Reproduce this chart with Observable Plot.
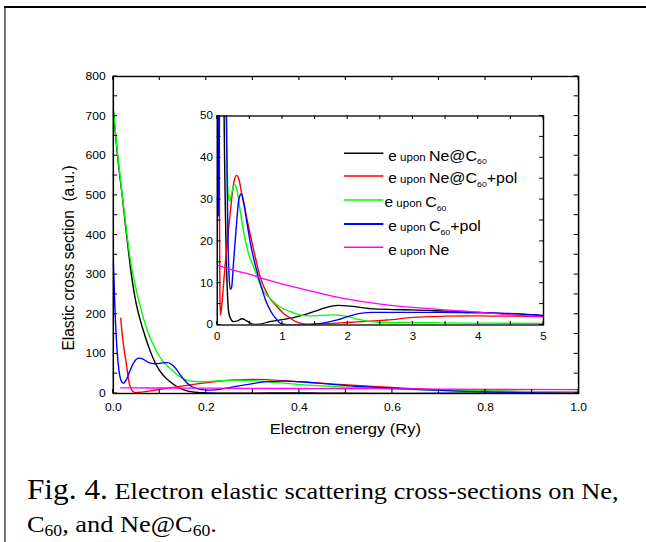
<!DOCTYPE html>
<html><head><meta charset="utf-8">
<script src="https://cdn.jsdelivr.net/npm/d3@7"></script>
<script src="https://cdn.jsdelivr.net/npm/@observablehq/plot@0.6"></script>
<style>
html,body{margin:0;padding:0;background:#fff;width:646px;height:542px;overflow:hidden}
#page{position:absolute;left:0;top:0;width:587.3px;height:542px;transform:scaleX(1.1);transform-origin:0 0;}
#border{position:absolute;left:4.3px;top:5.7px;width:800px;height:800px;border-left:1.8px solid #000;border-top:2px solid #000;}
#main,#inset,#deco{position:absolute;}
#main{left:0;top:0;}
#inset{left:165px;top:100px;}
#deco{left:0;top:0;}
</style></head>
<body><div id="page"><div id="border"></div><div id="main"></div><div id="inset"></div><svg id="deco" width="587.3" height="542"></svg></div>
<script>
// ---------- data (energy in Ry, cross section in a.u.) ----------
const blackE  = [0,0.005,0.01,0.019,0.03,0.04,0.048,0.058,0.069,0.08,0.091,0.1,0.112,0.125,0.14,0.155,0.17,0.185,0.2,0.25,0.3,0.38,0.45,0.56,0.65,0.8,1.0,1.15,1.33,1.5,1.65,1.85,2.05,2.35,2.7,3.0,3.5,4.0,4.5,5.0];
const blackCS = [715,650,590,500,385,290,234,185,142,105,75,57,40,27,15,8,3.8,2.3,1.7,0.8,0.9,1.5,1.0,0.15,0.2,0.8,1.3,1.7,2.4,3.3,4.1,4.7,4.5,3.9,3.7,3.6,3.3,3.0,2.7,2.2];
const redE    = [0.016,0.02,0.027,0.034,0.04,0.048,0.06,0.08,0.1,0.125,0.15,0.18,0.2,0.23,0.26,0.296,0.33,0.38,0.46,0.55,0.66,0.78,0.92,1.0,1.12,1.25,1.4,1.7,2.0,2.3,2.6,3.0,3.5,4.0,4.5,5.0];
const redCS   = [190,140,83,28,8,2.3,3.5,6.5,10.5,15,19,24,27,31.5,34.5,35.8,35,31,25,18.5,11.4,7,4.3,3,1.6,0.5,0.2,0.3,0.6,0.9,1.2,1.8,2.1,2.2,2.1,2.0];
const greenE  = [0,0.005,0.01,0.015,0.019,0.025,0.03,0.037,0.045,0.055,0.066,0.076,0.088,0.1,0.113,0.127,0.14,0.155,0.17,0.19,0.22,0.265,0.3,0.35,0.41,0.48,0.56,0.63,0.71,0.8,0.92,1.0,1.12,1.25,1.4,1.6,1.8,2.0,2.15,2.35,2.6,3.0,3.5,4.0,5.0];
const greenCS = [720,655,595,545,503,445,395,335,285,234,185,150,118,92,73,58,45,35,31,29.6,31.5,33.6,32.5,27.5,21.8,17,13.8,10.8,8,6.5,4.8,4.0,3.2,2.5,2.2,2.3,2.4,2.0,1.4,0.8,0.6,0.6,0.5,0.45,0.4];
const blueE   = [0,0.004,0.008,0.012,0.016,0.021,0.028,0.035,0.045,0.055,0.065,0.077,0.09,0.105,0.115,0.125,0.135,0.145,0.155,0.165,0.18,0.2,0.22,0.25,0.3,0.33,0.37,0.41,0.46,0.51,0.58,0.66,0.74,0.82,0.9,0.97,1.07,1.3,1.5,1.7,1.84,2.0,2.19,2.4,2.6,3.0,3.4,4.0,4.4,5.0];
const blueCS  = [335,200,110,60,35,26,35,55,80,89,86,77,75,77,78,74,62,45,31,20,12,8.5,9,15,25,30,31.4,29,24,19.4,14.5,9.9,6,3.3,1.5,0.4,0.1,0.05,0.2,0.7,1.2,2.0,2.8,3.0,3.0,3.0,3.0,2.9,2.8,2.3];
const magE    = [0.016,0.1,0.2,0.3,0.5,0.7,1.0,1.2,1.5,1.8,2.0,2.5,3.0,3.5,4.0,4.5,5.0];
const magCS   = [14.2,13.8,13.3,12.9,12.1,11.1,9.8,9.0,7.9,6.8,6.2,5.0,4.2,3.6,3.1,2.4,2.0];

const seriesNames  = ["Ne@C60", "Ne@C60+pol", "C60", "C60+pol", "Ne"];
const seriesColors = ["#000000", "#ff0000", "#00ff00", "#0000ff", "#ff00ff"];
const seriesE  = [blackE, redE, greenE, blueE, magE];
const seriesCS = [blackCS, redCS, greenCS, blueCS, magCS];

// legend label pieces: [prefix, small word, main, subscript, suffix]
const legendParts = [
  ["e", " upon ", "Ne@C", "60", ""],
  ["e", " upon ", "Ne@C", "60", "+pol"],
  ["e", " upon ", "C", "60", ""],
  ["e", " upon ", "C", "60", "+pol"],
  ["e", " upon ", "Ne", "", ""]
];

// ticks and labels
const mainXTicks  = [0,0.1,0.2,0.3,0.4,0.5,0.6,0.7,0.8,0.9,1.0];
const mainXLabels = [0,0.2,0.4,0.6,0.8,1.0];
const mainYTicks  = [0,50,100,150,200,250,300,350,400,450,500,550,600,650,700,750,800];
const mainYLabels = [0,100,200,300,400,500,600,700,800];
const insetXTicks  = [0,0.5,1,1.5,2,2.5,3,3.5,4,4.5,5];
const insetXLabels = [0,1,2,3,4,5];
const insetYTicks  = [0,5,10,15,20,25,30,35,40,45,50];
const insetYLabels = [0,10,20,30,40,50];

const xTitle = "Electron energy (Ry)";
const yTitle = "Elastic cross section  (a.u.)";

// ---------- build ----------
const table = seriesNames.map((name, i) => seriesE[i].map((e, j) => ({name, e, cs: seriesCS[i][j]})));
const SANS = "'Liberation Sans', Arial, Helvetica, sans-serif";
const W = 646 / 1.1;

function innerTicks(svg, xs, ys, len) {
  const sx = svg.scale("x"), sy = svg.scale("y");
  const [xa, xb] = sx.range, [ya, yb] = sy.range;
  const g = d3.select(svg).append("g").attr("stroke", "#000").attr("stroke-width", 1);
  for (const v of xs) {
    const p = sx.apply(v);
    g.append("line").attr("x1", p).attr("x2", p).attr("y1", ya).attr("y2", ya - len);
    g.append("line").attr("x1", p).attr("x2", p).attr("y1", yb).attr("y2", yb + len);
  }
  for (const v of ys) {
    const p = sy.apply(v);
    g.append("line").attr("y1", p).attr("y2", p).attr("x1", xa).attr("x2", xa + len);
    g.append("line").attr("y1", p).attr("y2", p).attr("x1", xb).attr("x2", xb - len);
  }
}

const lineMarks = table.map((rows, i) => Plot.line(rows, {
  x: "e", y: "cs", stroke: seriesColors[i], strokeWidth: 1.3, curve: "monotone-x", clip: true
}));

// main chart
const mainH = 460;
const main = Plot.plot({
  width: W, height: mainH,
  marginLeft: 102.5, marginRight: W - 525.5, marginTop: 76, marginBottom: mainH - 393,
  x: {domain: [0, 1]},
  y: {domain: [0, 800]},
  style: {fontFamily: SANS, fontSize: "11px", background: "none", overflow: "visible", color: "#000", maxWidth: "none"},
  marks: [
    ...lineMarks,
    Plot.frame({stroke: "#000", strokeWidth: 1.4}),
    Plot.axisX(mainXLabels, {tickSize: 0, tickPadding: 10, tickFormat: d => d.toFixed(1), label: null}),
    Plot.axisY(mainYLabels, {tickSize: 0, tickPadding: 7, label: null})
  ]
});
innerTicks(main, mainXTicks, mainYTicks, 4);
const ms = d3.select(main);
ms.append("text").attr("x", (102.5 + 525.5) / 2).attr("y", 434).attr("text-anchor", "middle")
  .attr("font-size", 15).attr("font-family", SANS).attr("fill", "#000").text(xTitle);
ms.append("text").attr("transform", "translate(67,258) rotate(-90)").attr("text-anchor", "middle")
  .attr("font-size", 15.5).attr("font-family", SANS).attr("fill", "#000").style("white-space", "pre").text(yTitle);
document.getElementById("main").appendChild(main);

// inset chart
const iW = 345, iH = 245, iL = 197 - 165, iR = 165 + iW - 493.6, iT = 115.5, iB = 324.5;
const inset = Plot.plot({
  width: iW, height: iH,
  marginLeft: iL, marginRight: iR, marginTop: iT - 100, marginBottom: iH - (iB - 100),
  x: {domain: [0, 5]},
  y: {domain: [0, 50]},
  style: {fontFamily: SANS, fontSize: "10.5px", background: "none", overflow: "visible", color: "#000", maxWidth: "none"},
  marks: [
    ...lineMarks,
    Plot.frame({stroke: "#000", strokeWidth: 1.3}),
    Plot.axisX(insetXLabels, {tickSize: 0, tickPadding: 8, label: null}),
    Plot.axisY(insetYLabels, {tickSize: 0, tickPadding: 4, label: null})
  ]
});
innerTicks(inset, insetXTicks, insetYTicks, 3.5);
// legend
const isv = d3.select(inset);
const rowY = [53.3, 76, 100, 124, 147.3];
legendParts.forEach((p, i) => {
  const y = rowY[i];
  isv.append("line").attr("x1", 147.7).attr("x2", 183.5).attr("y1", y).attr("y2", y)
    .attr("stroke", seriesColors[i]).attr("stroke-width", i === 3 ? 2 : 1.4);
  const t = isv.append("text").attr("x", i === 2 ? 184.6 : 188).attr("y", y + 7.3)
    .attr("text-anchor", "start").attr("font-family", SANS).attr("fill", "#000").style("white-space", "pre");
  t.append("tspan").attr("font-size", 14).text(p[0]);
  t.append("tspan").attr("font-size", 10.5).text(p[1]);
  t.append("tspan").attr("font-size", 14.5).text(p[2]);
  if (p[3]) t.append("tspan").attr("font-size", 8).attr("dy", 3.5).text(p[3]);
  if (p[4]) t.append("tspan").attr("font-size", 14.5).attr("dy", -3.5).text(p[4]);
});
document.getElementById("inset").appendChild(inset);

// caption
const deco = d3.select("#deco");
const SERIF = "'Liberation Serif', 'Times New Roman', Times, serif";
const c1 = deco.append("text").attr("x", 24.5).attr("y", 499).attr("text-anchor", "start").attr("font-family", SERIF).attr("fill", "#000").style("white-space", "pre");
c1.append("tspan").attr("font-size", 28.5).text("Fig. 4.");
c1.append("tspan").attr("font-size", 24).text(" Electron elastic scattering cross-sections on Ne,");
const c2 = deco.append("text").attr("x", 24.5).attr("y", 532).attr("text-anchor", "start").attr("font-family", SERIF).attr("fill", "#000").style("white-space", "pre");
c2.append("tspan").attr("font-size", 24).text("C");
c2.append("tspan").attr("font-size", 16).attr("dy", 4).text("60");
c2.append("tspan").attr("font-size", 24).attr("dy", -4).text(", and Ne@C");
c2.append("tspan").attr("font-size", 16).attr("dy", 4).text("60");
c2.append("tspan").attr("font-size", 24).attr("dy", -4).text(".");
</script>
</body></html>
